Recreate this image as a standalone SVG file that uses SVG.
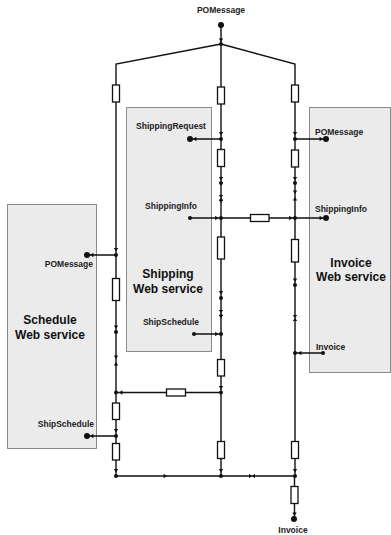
<svg xmlns="http://www.w3.org/2000/svg" xmlns:xlink="http://www.w3.org/1999/xlink" width="391" height="535" viewBox="0 0 391 535">
  <style>
    .box { fill: #ebebeb; stroke: #8a8a8a; stroke-width: 1; }
    .wire { fill: none; stroke: #111; stroke-width: 1.4; }
    .res { fill: #fff; stroke: #111; stroke-width: 1.3; }
    .lbl { font-family: "Liberation Sans", Arial, sans-serif; font-weight: bold; font-size: 8.5px; fill: #222; }
    .title { font-family: "Liberation Sans", Arial, sans-serif; font-weight: bold; font-size: 12px; fill: #111; text-anchor: middle; }
    .mk { fill: #111; }
  </style>
  <defs>
    <!-- small arrowheads, tip at origin -->
    <path id="ad" class="mk" d="M0,0 L-2.2,-3.4 L2.2,-3.4 Z"/>
    <path id="au" class="mk" d="M0,0 L-2.2,3.4 L2.2,3.4 Z"/>
    <path id="ar" class="mk" d="M0,0 L-3.4,-2.2 L-3.4,2.2 Z"/>
    <path id="al" class="mk" d="M0,0 L3.4,-2.2 L3.4,2.2 Z"/>
    <!-- hourglass marks -->
    <path id="bv" class="mk" d="M-2.2,-3 L2.2,-3 L0,0 Z M-2.2,3 L2.2,3 L0,0 Z"/>
    <path id="bh" class="mk" d="M-3,-2.2 L-3,2.2 L0,0 Z M3,-2.2 L3,2.2 L0,0 Z"/>
    <circle id="j" class="mk" r="2"/>
    <circle id="port" class="mk" r="3"/>
  </defs>

  <!-- service boxes -->
  <g id="shipping-service">
    <rect class="box" x="126.5" y="107.5" width="85" height="244"/>
    <text class="lbl" x="171" y="129" text-anchor="middle">ShippingRequest</text>
    <text class="lbl" x="171" y="209" text-anchor="middle">ShippingInfo</text>
    <text class="title" x="168" y="278">Shipping</text>
    <text class="title" x="168" y="293">Web service</text>
    <text class="lbl" x="171" y="325" text-anchor="middle">ShipSchedule</text>
  </g>
  <g id="invoice-service">
    <rect class="box" x="309.5" y="107.5" width="81" height="265"/>
    <text class="lbl" x="315" y="134.5">POMessage</text>
    <text class="lbl" x="315" y="212">ShippingInfo</text>
    <text class="title" x="351" y="266.5">Invoice</text>
    <text class="title" x="351" y="281">Web service</text>
    <text class="lbl" x="316" y="349.5">Invoice</text>
  </g>
  <g id="schedule-service">
    <rect class="box" x="7.5" y="204.5" width="89" height="244"/>
    <text class="lbl" x="93" y="267" text-anchor="end">POMessage</text>
    <text class="title" x="50" y="323.5">Schedule</text>
    <text class="title" x="50" y="338.5">Web service</text>
    <text class="lbl" x="94" y="427" text-anchor="end">ShipSchedule</text>
  </g>

  <!-- outer labels -->
  <g id="po-in">
    <text class="lbl" x="221" y="13" text-anchor="middle">POMessage</text>
    <use href="#port" x="221" y="25"/>
  </g>
  <g id="invoice-out">
    <text class="lbl" x="293" y="533" text-anchor="middle">Invoice</text>
    <use href="#port" x="294" y="519"/>
  </g>

  <g id="connectors">
    <!-- fan-out from the incoming message -->
    <path class="wire" d="M221,25 V44 M221,44 L116,64 V476 M221,44 L295,64 V476 M221,44 V476"/>
    <!-- bottom merge and output -->
    <path class="wire" d="M116,476 H295 M294.5,476 V519"/>
    <!-- cross links -->
    <path class="wire" d="M221,218 H295 M116,392.5 H221"/>
    <!-- port stubs -->
    <path class="wire" d="M190,139 H221 M190,218 H221 M194,334 H221 M295,139 H326 M295,218 H326 M295,353 H323 M87,255 H116 M87,436 H116"/>

    <!-- middle branch marks -->
    <use href="#ad" x="221" y="42"/><use href="#j" x="221" y="44"/>
    <use href="#ad" x="221" y="135.5"/><use href="#j" x="221" y="139"/>
    <use href="#ad" x="221" y="180.5"/><use href="#j" x="221" y="183"/>
    <use href="#bv" x="221" y="198"/><use href="#ad" x="221" y="203"/>
    <use href="#j" x="221" y="218"/>
    <use href="#ad" x="221" y="294.5"/><use href="#j" x="221" y="298"/>
    <use href="#bv" x="221" y="313"/><use href="#ad" x="221" y="318.5"/>
    <use href="#j" x="221" y="334"/>
    <use href="#ad" x="221" y="389.5"/><use href="#j" x="221" y="392.5"/>
    <use href="#ad" x="221" y="472.5"/><use href="#j" x="221" y="476"/>

    <!-- right branch marks -->
    <use href="#ad" x="295" y="135.5"/><use href="#j" x="295" y="139"/>
    <use href="#ad" x="295" y="180.5"/><use href="#j" x="295" y="183"/>
    <use href="#ad" x="295" y="194"/><use href="#au" x="295" y="197"/>
    <use href="#j" x="295" y="218"/>
    <use href="#ad" x="295" y="282"/><use href="#j" x="295" y="285"/>
    <use href="#bv" x="295" y="318"/>
    <use href="#j" x="295" y="353"/>
    <use href="#ad" x="295" y="472.5"/><use href="#j" x="295" y="476"/>
    <use href="#ad" x="294.5" y="516"/>

    <!-- left branch marks -->
    <use href="#ad" x="116" y="251.5"/><use href="#j" x="116" y="255"/>
    <use href="#ad" x="116" y="329"/><use href="#j" x="116" y="332"/>
    <use href="#ad" x="116" y="359"/><use href="#au" x="116" y="362"/>
    <use href="#j" x="116" y="392.5"/>
    <use href="#ad" x="116" y="432.5"/><use href="#j" x="116" y="436"/>
    <use href="#ad" x="116" y="472.5"/><use href="#j" x="116" y="476"/>

    <!-- arrowheads on stubs and links -->
    <use href="#al" x="193" y="139"/>
    <use href="#ar" x="218.5" y="218"/>
    <use href="#ar" x="292.5" y="218"/>
    <use href="#ar" x="218.5" y="334"/>
    <use href="#ar" x="323" y="139"/>
    <use href="#ar" x="323" y="218"/>
    <use href="#al" x="298" y="353"/>
    <use href="#al" x="90" y="255"/>
    <use href="#al" x="90" y="436"/>
    <use href="#al" x="119" y="392.5"/>
    <use href="#ar" x="167" y="476"/>
    <use href="#bh" x="252" y="476"/>

    <!-- port dots -->
    <use href="#port" x="190" y="139"/>
    <use href="#j" x="190" y="218"/>
    <use href="#j" x="194" y="334"/>
    <use href="#port" x="326" y="139"/>
    <use href="#port" x="326" y="218"/>
    <use href="#j" x="323" y="353"/>
    <use href="#port" x="87" y="255"/>
    <use href="#port" x="87" y="436"/>
  </g>

  <!-- resistive elements along the branches -->
  <g id="elements">
    <rect class="res" x="112.5" y="85" width="7" height="17"/>
    <rect class="res" x="217.5" y="87" width="7" height="17"/>
    <rect class="res" x="291.5" y="85" width="7" height="17"/>
    <rect class="res" x="217.5" y="149.5" width="7" height="17"/>
    <rect class="res" x="291.5" y="150" width="7" height="17"/>
    <rect class="res" x="250.5" y="214.5" width="18.5" height="7"/>
    <rect class="res" x="217.5" y="237" width="7" height="22"/>
    <rect class="res" x="291.5" y="239.5" width="7" height="22.5"/>
    <rect class="res" x="112.5" y="278.5" width="7" height="22"/>
    <rect class="res" x="217.5" y="359.5" width="7" height="16.5"/>
    <rect class="res" x="166.5" y="389" width="19" height="7"/>
    <rect class="res" x="112.5" y="403" width="7" height="16.5"/>
    <rect class="res" x="112.5" y="443.5" width="7" height="16.5"/>
    <rect class="res" x="217.5" y="441.5" width="7" height="17"/>
    <rect class="res" x="291.5" y="441.5" width="7" height="17"/>
    <rect class="res" x="291" y="486.5" width="7" height="17"/>
  </g>
</svg>
